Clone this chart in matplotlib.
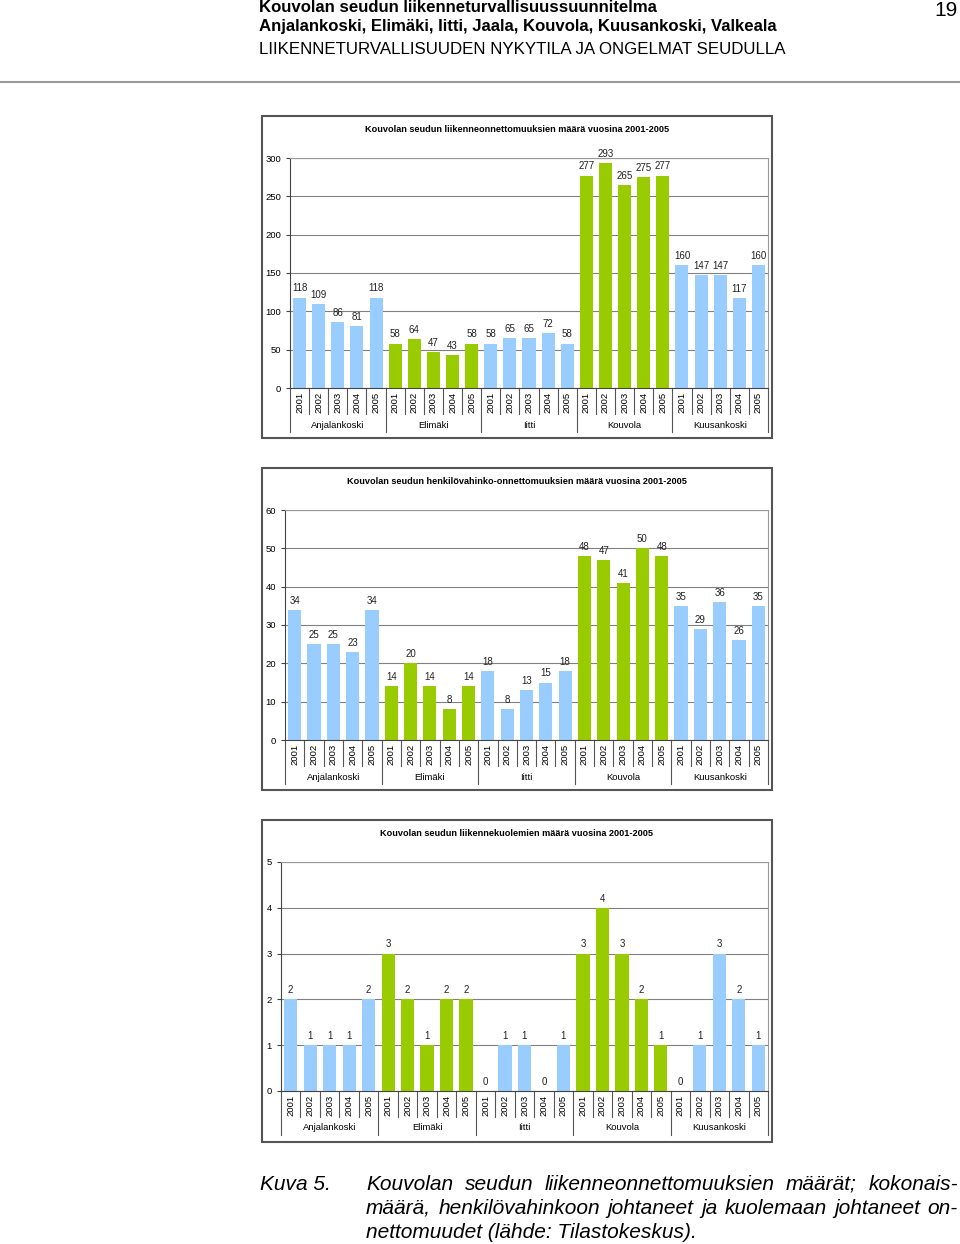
import matplotlib
matplotlib.use("Agg")
import matplotlib.pyplot as plt
from matplotlib.patches import Rectangle
from matplotlib.lines import Line2D
import matplotlib.transforms as mtrans

W, H = 960, 1244
plt.rcParams['font.family'] = ['Liberation Sans', 'DejaVu Sans']

municipalities = ["Anjalankoski", "Elimäki", "Iitti", "Kouvola", "Kuusankoski"]
years = ["2001", "2002", "2003", "2004", "2005"]
group_colors = ["#99ccff", "#99cc00", "#99ccff", "#99cc00", "#99ccff"]

# all accidents, 5 years per municipality
accidents_total = [118, 109, 86, 81, 118,
                   58, 64, 47, 43, 58,
                   58, 65, 65, 72, 58,
                   277, 293, 265, 275, 277,
                   160, 147, 147, 117, 160]
# injury accidents
accidents_injury = [34, 25, 25, 23, 34,
                    14, 20, 14, 8, 14,
                    18, 8, 13, 15, 18,
                    48, 47, 41, 50, 48,
                    35, 29, 36, 26, 35]
# fatalities
fatalities = [2, 1, 1, 1, 2,
              3, 2, 1, 2, 2,
              0, 1, 1, 0, 1,
              3, 4, 3, 2, 1,
              0, 1, 3, 2, 1]

titles = ["Kouvolan seudun liikenneonnettomuuksien määrä vuosina 2001-2005",
          "Kouvolan seudun henkilövahinko-onnettomuuksien määrä vuosina 2001-2005",
          "Kouvolan seudun liikennekuolemien määrä vuosina 2001-2005"]

fig = plt.figure(figsize=(W / 100, H / 100), dpi=100)


def fx(x):
    return x / W


def fy(y):
    return 1 - y / H


def draw_chart(values, title, box, area, ymax, step):
    l, t, r, b = box
    fig.patches.append(Rectangle((fx(l), fy(b)), (r - l) / W, (b - t) / H,
                                 transform=fig.transFigure, fill=False,
                                 edgecolor="#555555", lw=1.5))
    fig.text(fx((l + r) / 2), fy(t + 14), title, ha="center", va="center",
             fontsize=6.6, fontweight="bold")

    al, at, ar, ab = area
    ax = fig.add_axes([fx(al), fy(ab), (ar - al) / W, (ab - at) / H])
    n = len(values)
    colors = [group_colors[i // 5] for i in range(n)]
    xs = list(range(n))
    ax.bar(xs, values, width=0.68, color=colors, zorder=2)
    for x, v in zip(xs, values):
        ax.annotate(str(v), (x, v), xytext=(0, 3), textcoords="offset points",
                    ha="center", va="bottom", fontsize=7, color="#222222")
    ax.set_xlim(-0.5, n - 0.5)
    ax.set_ylim(0, ymax)
    ax.set_yticks(range(0, ymax + 1, step))
    ax.yaxis.grid(True, color="#808080", lw=0.8, zorder=0)
    ax.set_xticks(xs)
    ax.set_xticklabels(years * 5, rotation=90, fontsize=6.8)
    ax.tick_params(axis="x", length=0, pad=3)
    ax.tick_params(axis="y", length=3, labelsize=6.8, color="#444444")
    for side in ["top", "right"]:
        ax.spines[side].set_color("#999999")
    ax.spines["left"].set_color("#444444")
    ax.spines["bottom"].set_color("#444444")

    h = ab - at
    trans = mtrans.blended_transform_factory(ax.transData, ax.transAxes)
    for i in range(n + 1):
        xb = i - 0.5
        end = -44 / h if i % 5 == 0 else -26 / h
        ax.add_line(Line2D([xb, xb], [0, end], transform=trans, color="#555555",
                           lw=0.8, clip_on=False))
    for g, name in enumerate(municipalities):
        ax.text(g * 5 + 2, -37 / h, name, transform=trans, ha="center", va="center",
                fontsize=6.8)
    return ax


draw_chart(accidents_total, titles[0], (262, 116, 772, 438), (290, 158, 768, 388), 300, 50)
draw_chart(accidents_injury, titles[1], (262, 468, 772, 790), (285, 510, 768, 740), 60, 10)
draw_chart(fatalities, titles[2], (262, 820, 772, 1142), (281, 862, 768, 1091), 5, 1)

# page header
fig.text(fx(259), fy(8), "Kouvolan seudun liikenneturvallisuussuunnitelma",
         fontsize=12.1, fontweight="bold", va="center")
fig.text(fx(259), fy(27), "Anjalankoski, Elimäki, Iitti, Jaala, Kouvola, Kuusankoski, Valkeala",
         fontsize=12.1, fontweight="bold", va="center")
fig.text(fx(259), fy(49), "LIIKENNETURVALLISUUDEN NYKYTILA JA ONGELMAT SEUDULLA",
         fontsize=12.2, va="center")
fig.text(fx(958), fy(10), "19", fontsize=15, ha="right", va="center")
fig.add_artist(Line2D([0, 1], [fy(82), fy(82)], transform=fig.transFigure,
                      color="#999999", lw=1.5))

# caption
cap_kw = dict(fontsize=15, style="italic", va="center")
fig.text(fx(260), fy(1184), "Kuva 5.", **cap_kw)
caption_lines = ["Kouvolan seudun liikenneonnettomuuksien määrät; kokonais-",
                 "määrä, henkilövahinkoon johtaneet ja kuolemaan johtaneet on-",
                 "nettomuudet (lähde: Tilastokeskus)."]
renderer = fig.canvas.get_renderer()
for k, line in enumerate(caption_lines):
    y = 1184 + 24 * k
    if k == len(caption_lines) - 1:
        fig.text(fx(366), fy(y), line, **cap_kw)
        continue
    words = line.split()
    texts = [fig.text(0, 0, w, **cap_kw) for w in words]
    widths = [t.get_window_extent(renderer).width for t in texts]
    gap = (958 - 366 - sum(widths)) / (len(words) - 1)
    x = 366
    for t, w in zip(texts, widths):
        t.set_position((fx(x), fy(y)))
        x += w + gap

fig.savefig("out.png", dpi=100)
